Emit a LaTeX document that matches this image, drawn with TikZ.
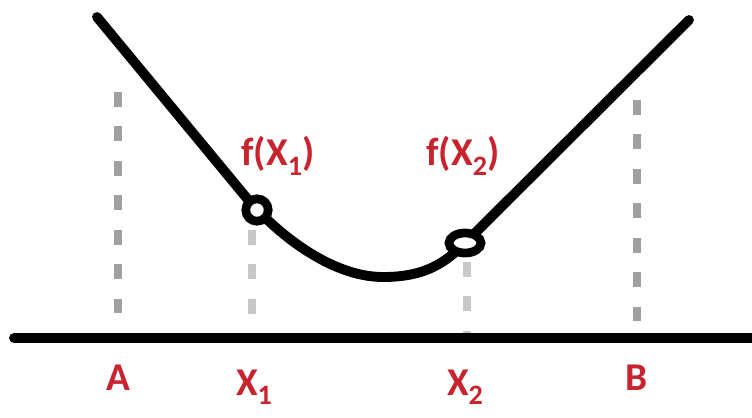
\documentclass[tikz,border=0pt]{standalone}
\usepackage{fontspec}
\setmainfont{Carlito}
\usetikzlibrary{shapes.geometric}
\definecolor{labred}{RGB}{200,36,48}
\definecolor{guidegray}{RGB}{160,160,160}
\definecolor{guidelight}{RGB}{200,200,200}
\newcommand{\lsub}[1]{\raisebox{-0.5ex}{\fontsize{20}{22}\selectfont #1}}
\tikzset{
  lbl/.style={text=labred,font=\fontsize{28}{32}\selectfont\bfseries,inner sep=0pt},
  guide/.style={line width=5.6pt,guidegray,dash pattern=on 10.5pt off 14pt},
  guidelt/.style={guide,guidelight},
  pt/.style={draw,line width=6.2pt,fill=white,inner sep=0pt}
}
\begin{document}
\begin{tikzpicture}[x=0.025cm,y=-0.025cm]
\useasboundingbox (0,0) rectangle (752,417);
% dotted guides
\coordinate (At) at (118,92);  \coordinate (Ab) at (118,320);
\coordinate (Bt) at (637,100); \coordinate (Bb) at (637,328);
\coordinate (X1t) at (252,230); \coordinate (X1b) at (252,338);
\coordinate (X2t) at (467,262); \coordinate (X2b) at (467,338);
\draw[guide] (At)--(Ab);
\draw[guide] (Bt)--(Bb);
\draw[guidelt] (X1t)--(X1b);
\draw[guidelt] (X2t)--(X2b);
% axis
\coordinate (ax0) at (14,338); \coordinate (ax1) at (760,338);
\draw[line width=7pt,line cap=round] (ax0)--(ax1);
% curve
\draw[line width=7pt,line cap=round] (97,17) -- (245,196)
  .. controls (275,232) and (330,277) .. (383,277)
  .. controls (425,277) and (445,263) .. (465,243) -- (689,20);
\node[pt,circle,minimum size=0.56cm] (p1) at (257,210) {};
\node[pt,ellipse,minimum width=0.8cm,minimum height=0.5cm] (p2) at (465,243) {};
% labels
\node[lbl] (fx1) at (278,156) {f(X\lsub{1})};
\node[lbl] (fx2) at (463,156) {f(X\lsub{2})};
\node[lbl] (lA) at (118,378) {A};
\node[lbl] (lX1) at (254,387) {X\lsub{1}};
\node[lbl] (lX2) at (465,387) {X\lsub{2}};
\node[lbl] (lB) at (637,378) {B};
\end{tikzpicture}
\end{document}
